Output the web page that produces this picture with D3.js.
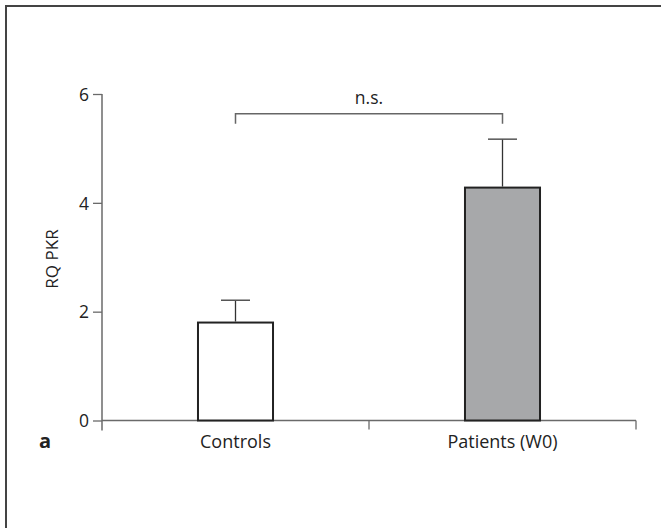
<!DOCTYPE html>
<html>
<head>
<meta charset="utf-8">
<script src="https://cdn.jsdelivr.net/npm/d3@7"></script>
<style>
  html, body { margin: 0; padding: 0; background: #fff; }
  svg { display: block; }
  text { font-family: "Open Sans", "Noto Sans", sans-serif; fill: #222; }
</style>
</head>
<body>
<svg id="chart" width="661" height="528"></svg>
<script>
// RQ PKR expression by group
const categories = ["Controls", "Patients (W0)"];
const means = [1.8, 4.28];
const errorTops = [2.21, 5.17];
const fills = ["#ffffff", "#a7a8aa"];
const yTicks = [0, 2, 4, 6];
const yLabel = "RQ PKR";
const sigLabel = "n.s.";
const panelLabel = "a";

const svg = d3.select("#chart");

// panel frame (top and left edges)
svg.append("path")
  .attr("d", "M6,528V6H661")
  .attr("fill", "none")
  .attr("stroke", "#444")
  .attr("stroke-width", 2);

const y = d3.scaleLinear().domain([0, 6]).range([420.5, 94]);
const x = d3.scaleBand().domain(categories).range([102, 636])
  .paddingInner(0.719).paddingOuter(0.3595);
const cx = c => x(c) + x.bandwidth() / 2;
const axisColor = "#6a6a6a";

// y axis
const yAxis = svg.append("g")
  .attr("transform", "translate(102,0)")
  .call(d3.axisLeft(y).tickValues(yTicks).tickSize(9).tickSizeOuter(0).tickFormat(d3.format("d")));
yAxis.select(".domain").remove();
yAxis.selectAll(".tick line").attr("stroke", axisColor).attr("stroke-width", 1.3);
yAxis.selectAll(".tick text")
  .attr("x", -13).attr("dy", "0.36em")
  .style("font-size", "17.5px").style("font-family", "'Open Sans', sans-serif").attr("fill", "#222");
svg.append("line")
  .attr("x1", 102).attr("x2", 102)
  .attr("y1", y(6)).attr("y2", y(0) + 10)
  .attr("stroke", axisColor).attr("stroke-width", 1.5);

// x axis baseline with group boundary ticks
const [x0, x1] = x.range();
svg.append("line")
  .attr("x1", x0).attr("x2", x1)
  .attr("y1", y(0)).attr("y2", y(0))
  .attr("stroke", axisColor).attr("stroke-width", 1.5);
svg.selectAll(".xtick")
  .data([(x0 + x1) / 2, x1])
  .join("line")
  .attr("x1", d => d).attr("x2", d => d)
  .attr("y1", y(0)).attr("y2", y(0) + 9)
  .attr("stroke", axisColor).attr("stroke-width", 1.3);

// bars
svg.selectAll(".bar")
  .data(categories)
  .join("rect")
  .attr("x", c => x(c))
  .attr("width", x.bandwidth())
  .attr("y", (c, i) => y(means[i]))
  .attr("height", (c, i) => y(0) - y(means[i]))
  .attr("fill", (c, i) => fills[i])
  .attr("stroke", "#222")
  .attr("stroke-width", 2);

// error bars (upper whisker only)
const capHalf = 14.5;
categories.forEach((c, i) => {
  svg.append("line")
    .attr("x1", cx(c)).attr("x2", cx(c))
    .attr("y1", y(means[i]) - 1).attr("y2", y(errorTops[i]))
    .attr("stroke", "#333").attr("stroke-width", 1.3);
  svg.append("line")
    .attr("x1", cx(c) - capHalf).attr("x2", cx(c) + capHalf)
    .attr("y1", y(errorTops[i])).attr("y2", y(errorTops[i]))
    .attr("stroke", "#555").attr("stroke-width", 1.5);
});

// category labels
svg.selectAll(".xlabel")
  .data(categories)
  .join("text")
  .attr("x", c => cx(c))
  .attr("y", 448)
  .attr("text-anchor", "middle")
  .style("font-size", "18px")
  .text(c => c);

// significance bracket
const bY = 113.7;
svg.append("path")
  .attr("d", `M${cx(categories[0])},${bY + 10}V${bY}H${cx(categories[1])}V${bY + 10}`)
  .attr("fill", "none")
  .attr("stroke", "#666")
  .attr("stroke-width", 1.5);
svg.append("text")
  .attr("x", (cx(categories[0]) + cx(categories[1])) / 2)
  .attr("y", 103.5)
  .attr("text-anchor", "middle")
  .style("font-size", "17.5px")
  .text(sigLabel);

// y axis title
svg.append("text")
  .attr("transform", "translate(58,259) rotate(-90)")
  .attr("text-anchor", "middle")
  .style("font-size", "17px")
  .text(yLabel);

// panel letter
svg.append("text")
  .attr("x", 39)
  .attr("y", 448)
  .style("font-size", "20px")
  .style("font-weight", "bold")
  .text(panelLabel);
</script>
</body>
</html>
